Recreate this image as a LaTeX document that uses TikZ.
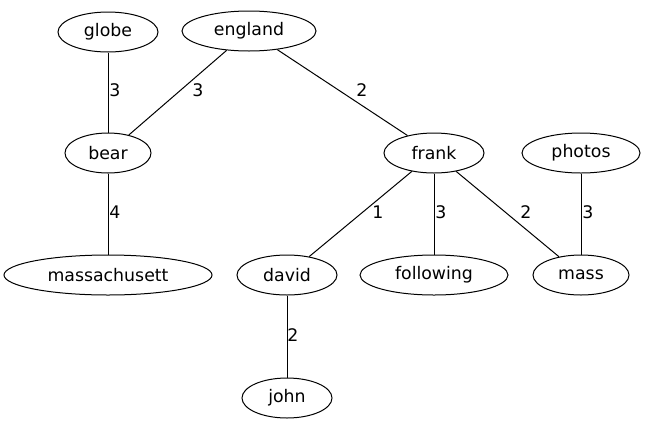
\documentclass[tikz,border=0pt]{standalone}
\usepackage{fontspec}
\setmainfont{DejaVu Sans}
\usetikzlibrary{shapes.geometric}
\begin{document}
\begin{tikzpicture}[x=0.75pt,y=-0.75pt,
  vnode/.style={draw,ellipse,line width=0.75pt,inner sep=0pt,minimum height=30pt,minimum width=#1*0.75pt,font=\fontsize{13}{15}\selectfont},
  edge/.style={line width=0.75pt},
  elab/.style={font=\fontsize{13}{15}\selectfont,inner sep=0pt}]
\useasboundingbox (0,0) rectangle (645,429);
\node[vnode=100] (globe) at (108,32) {globe};
\node[vnode=134] (england) at (249,31) {england};
\node[vnode=86] (bear) at (108,153) {bear};
\node[vnode=100] (frank) at (434,153) {frank};
\node[vnode=118] (photos) at (581,153) {photos};
\node[vnode=208] (massachusett) at (108,275) {massachusett};
\node[vnode=100] (david) at (287,275) {david};
\node[vnode=148] (following) at (434,275) {following};
\node[vnode=96] (mass) at (581,275) {mass};
\node[vnode=90] (john) at (287,398) {john};
\draw[edge] (globe) -- (bear);
\draw[edge] (england) -- (bear);
\draw[edge] (england) -- (frank);
\draw[edge] (bear) -- (massachusett);
\draw[edge] (frank) -- (david);
\draw[edge] (frank) -- (following);
\draw[edge] (frank) -- (mass);
\draw[edge] (photos) -- (mass);
\draw[edge] (david) -- (john);
\node[elab] (l1) at (115,90) {3};
\node[elab] (l2) at (198,90) {3};
\node[elab] (l3) at (362,90) {2};
\node[elab] (l4) at (115,212) {4};
\node[elab] (l5) at (378,212) {1};
\node[elab] (l6) at (441,212) {3};
\node[elab] (l7) at (526,212) {2};
\node[elab] (l8) at (588,212) {3};
\node[elab] (l9) at (293,335) {2};
\end{tikzpicture}
\end{document}
